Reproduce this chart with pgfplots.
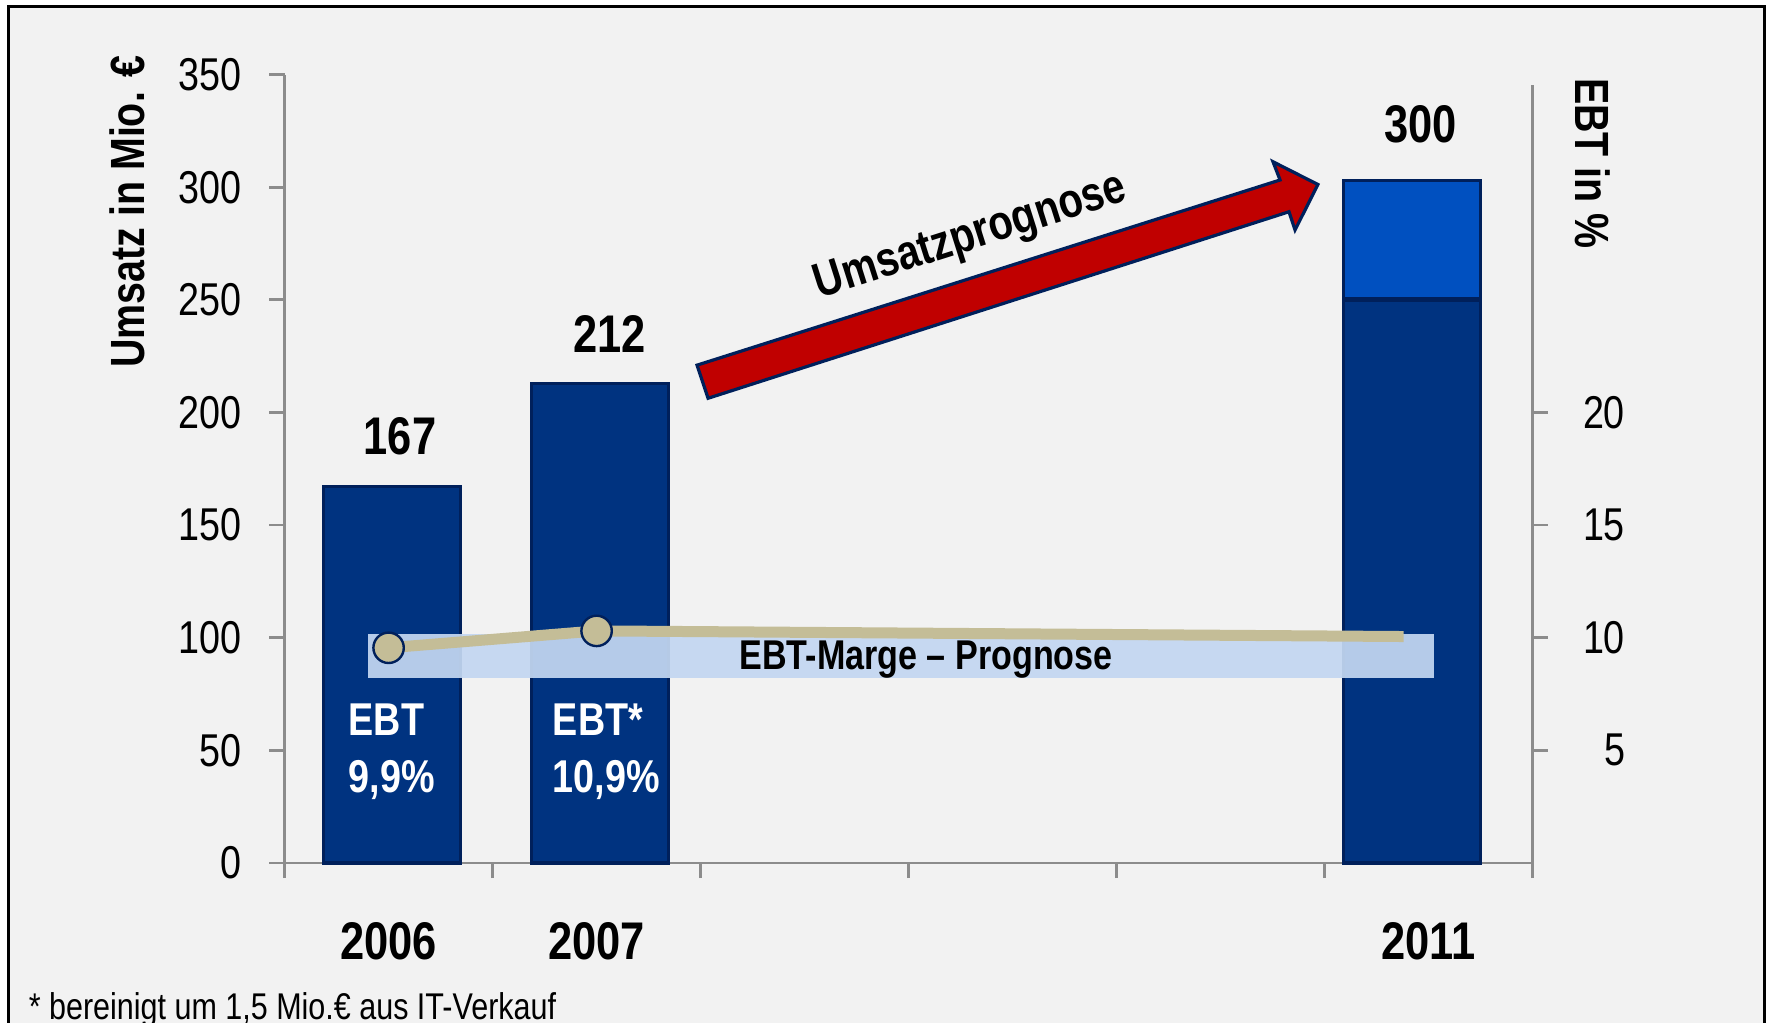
\documentclass[border=0pt]{standalone}
\usepackage{fontspec}
\setmainfont{Liberation Sans}[FakeStretch=0.82]
\usepackage{pgfplots}
\pgfplotsset{compat=1.18}
\definecolor{bg}{HTML}{F2F2F2}
\definecolor{navy}{HTML}{003380}
\definecolor{navyline}{HTML}{00205B}
\definecolor{midblue}{HTML}{0050C0}
\definecolor{tanline}{HTML}{C4BD97}
\definecolor{boxblue}{RGB}{195,215,241}
\definecolor{arrowred}{HTML}{C00000}
\definecolor{axgray}{HTML}{8C8C8C}

\begin{document}
\begin{tikzpicture}[x=0.25pt,y=0.25pt]
\useasboundingbox (0,0) rectangle (1771,1023);
\fill[white] (0,0) rectangle (1771,1023);
\filldraw[fill=bg, draw=black, line width=0.75pt] (8,-20) rectangle (1764,1016);

% Umsatz (left axis)
\begin{axis}[
  at={(71.15pt,40pt)}, anchor=south west,
  scale only axis, width=312pt, height=197.1pt,
  xmin=-0.5, xmax=5.5, ymin=0, ymax=350,
  axis x line=bottom, axis y line=left,
  axis line style={-, draw=axgray, line width=0.7pt},
  tick style={draw=axgray, line width=0.7pt},
  tick align=outside, major tick length=3.8pt,
  xtick={-0.5,0.5,...,5.5}, xticklabels={,,,,,,},
  extra x ticks={0,1,5}, extra x tick labels={2006,2007,2011},
  extra x tick style={major tick length=0pt,
    tick label style={font=\fontsize{13.25}{15}\selectfont\bfseries, anchor=center, yshift=-19.5pt}},
  ytick={0,50,...,350},
  yticklabel style={font=\fontsize{11.5}{13}\selectfont, anchor=east, inner sep=0pt, xshift=-6.9pt},
  /pgf/number format/assume math mode=true,
  clip=false,
]
\addplot[ybar, bar shift=0pt, bar width=34.3pt, fill=midblue, draw=navyline, line width=0.8pt]
  coordinates {(4.92,303)};
\addplot[ybar, bar shift=0.9pt, bar width=34.3pt, fill=navy, draw=navyline, line width=0.8pt]
  coordinates {(0,167) (1,213)};
\addplot[ybar, bar shift=0pt, bar width=34.3pt, fill=navy, draw=navyline, line width=0.8pt]
  coordinates {(4.92,250)};
\draw[navyline, line width=1.3pt] (axis cs:4.591,250) -- (axis cs:5.249,250);

\fill[boxblue, opacity=0.93] (axis cs:-0.098,82.3) rectangle (axis cs:5.028,101.8);

\filldraw[fill=arrowred, draw=navyline, line width=0.8pt, line join=miter]
  (axis cs:1.483,221.0) -- (axis cs:4.286,303.2) -- (axis cs:4.252,311.3) -- (axis cs:4.468,301.2)
  -- (axis cs:4.358,281.0) -- (axis cs:4.329,289.1) -- (axis cs:1.536,206.3) -- cycle;
\node[font=\fontsize{12.2}{14}\selectfont\bfseries, rotate=17.6] at (axis cs:2.80,277.5) {Umsatzprognose};

\node[font=\fontsize{13.25}{15}\selectfont\bfseries] at (axis cs:0.055,189.5) {167};
\node[font=\fontsize{13.25}{15}\selectfont\bfseries] at (axis cs:1.064,234.8) {212};
\node[font=\fontsize{13.25}{15}\selectfont\bfseries] at (axis cs:4.963,328) {300};

\node[font=\fontsize{11.5}{13}\selectfont\bfseries, text=white, anchor=base west, inner sep=0pt] at (axis cs:-0.195,56.4) {EBT};
\node[font=\fontsize{11.5}{13}\selectfont\bfseries, text=white, anchor=base west, inner sep=0pt] at (axis cs:-0.195,31.1) {9,9\%};
\node[font=\fontsize{11.5}{13}\selectfont\bfseries, text=white, anchor=base west, inner sep=0pt] at (axis cs:0.786,56.8) {EBT*};
\node[font=\fontsize{11.5}{13}\selectfont\bfseries, text=white, anchor=base west, inner sep=0pt] at (axis cs:0.786,31.5) {10,9\%};
\end{axis}

% EBT-Marge (right axis)
\begin{axis}[
  at={(71.15pt,40pt)}, anchor=south west,
  scale only axis, width=312pt, height=194.5pt,
  xmin=-0.5, xmax=5.5, ymin=0, ymax=34.53,
  hide x axis, axis y line*=right,
  axis line style={-, draw=axgray, line width=0.7pt},
  tick style={draw=axgray, line width=0.7pt},
  tick align=outside, major tick length=3.8pt,
  ytick={5,10,15,20},
  yticklabel style={font=\fontsize{11.5}{13}\selectfont, anchor=east, inner sep=0pt, xshift=19.5pt},
  /pgf/number format/assume math mode=true,
  clip=false,
]
\addplot[color=tanline, line width=2.75pt, mark=*, mark size=3.8pt, mark indices={1,2},
  mark options={fill=tanline, draw=navyline, line width=0.6pt}]
  coordinates {(0,9.55) (1,10.3) (4.88,10.05)};
\node[font=\fontsize{10.4}{12}\selectfont\bfseries, anchor=base] at (axis cs:2.584,8.57) {EBT-Marge – Prognose};
\end{axis}

\node[rotate=90, font=\fontsize{12}{14}\selectfont\bfseries] at (127.6,811.4) {Umsatz in Mio. €};
\node[rotate=-90, font=\fontsize{12}{14}\selectfont\bfseries] at (1592.6,859.4) {EBT in \%};
\node[anchor=base west, inner sep=0pt, font=\fontsize{9.3}{11}\selectfont] at (28,3) {* bereinigt um 1,5 Mio.€ aus IT-Verkauf};
\end{tikzpicture}
\end{document}
